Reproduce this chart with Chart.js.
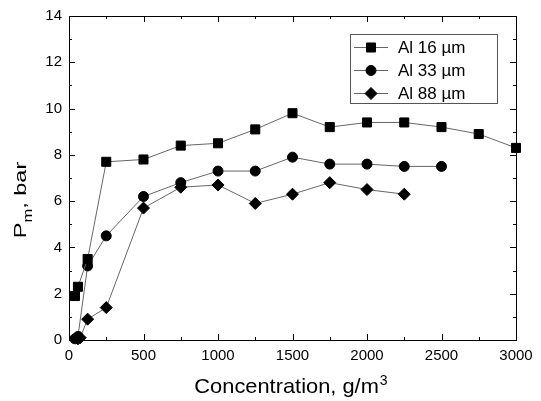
<!DOCTYPE html>
<html>
<head>
<meta charset="utf-8">
<script src="https://cdn.jsdelivr.net/npm/chart.js@4/dist/chart.umd.min.js"></script>
<style>
  html, body { margin: 0; padding: 0; background: #fff; }
  #wrap { width: 541px; height: 401px; }
</style>
</head>
<body>
<div id="wrap"><canvas id="chart" width="541" height="401"></canvas></div>
<script>
// data (concentration g/m3, Pm bar)
const al16X = [40, 60, 125, 250, 500, 750, 1000, 1250, 1500, 1750, 2000, 2250, 2500, 2750, 3000];
const al16Y = [1.9, 2.3, 3.5, 7.7, 7.8, 8.4, 8.5, 9.1, 9.8, 9.2, 9.4, 9.4, 9.2, 8.9, 8.3];
const al33X = [40, 60, 125, 250, 500, 750, 1000, 1250, 1500, 1750, 2000, 2250, 2500];
const al33Y = [0.05, 0.15, 3.2, 4.5, 6.2, 6.8, 7.3, 7.3, 7.9, 7.6, 7.6, 7.5, 7.5];
const al88X = [60, 75, 125, 250, 500, 750, 1000, 1250, 1500, 1750, 2000, 2250];
const al88Y = [0.05, 0.1, 0.9, 1.4, 5.7, 6.6, 6.7, 5.9, 6.3, 6.8, 6.5, 6.3];
const seriesNames = ["Al 16 \u00b5m", "Al 33 \u00b5m", "Al 88 \u00b5m"];
const xTicks = [0, 500, 1000, 1500, 2000, 2500, 3000];
const yTicks = [0, 2, 4, 6, 8, 10, 12, 14];

const FONT = "'Liberation Sans', Arial, sans-serif";

function pts(xs, ys) {
  return xs.map((x, i) => ({ x: x, y: ys[i] }));
}

function ds(label, data, shape, r) {
  return {
    label: label,
    data: data,
    borderColor: "#666",
    borderWidth: 1,
    pointStyle: shape,
    pointRadius: r,
    pointBackgroundColor: "#000",
    pointBorderColor: "#000",
    pointBorderWidth: 1,
    fill: false,
    tension: 0
  };
}

// frame + inward ticks, axis titles
const framePlugin = {
  id: "frame",
  afterDatasetsDraw(chart) {
    const { ctx, chartArea: a, scales } = chart;
    const xs = scales.x, ys = scales.y;
    ctx.save();
    ctx.strokeStyle = "#000";
    ctx.lineWidth = 1;
    ctx.beginPath();
    // minor + major ticks on x
    for (let v = 0; v <= 3000; v += 250) {
      const px = Math.round(xs.getPixelForValue(v)) + 0.5;
      const len = v % 500 === 0 ? 6 : 3;
      ctx.moveTo(px, a.bottom); ctx.lineTo(px, a.bottom - len);
      ctx.moveTo(px, a.top); ctx.lineTo(px, a.top + len);
    }
    for (let v = 0; v <= 14; v += 1) {
      const py = Math.round(ys.getPixelForValue(v)) + 0.5;
      const len = v % 2 === 0 ? 6 : 3;
      ctx.moveTo(a.left, py); ctx.lineTo(a.left + len, py);
      ctx.moveTo(a.right, py); ctx.lineTo(a.right - len, py);
    }
    ctx.stroke();
    ctx.strokeRect(Math.round(a.left) + 0.5, Math.round(a.top) + 0.5,
      Math.round(a.right - a.left), Math.round(a.bottom - a.top));
    ctx.restore();
  },
  afterDraw(chart) {
    const { ctx, chartArea: a } = chart;
    ctx.save();
    ctx.fillStyle = "#000";
    ctx.textBaseline = "alphabetic";
    // x title with superscript
    const t1 = "Concentration, g/m";
    ctx.font = "21px " + FONT;
    const w1 = ctx.measureText(t1).width * 1.04;
    ctx.font = "14px " + FONT;
    const w2 = ctx.measureText("3").width;
    const cx = (a.left + a.right) / 2;
    let x0 = cx - (w1 + w2) / 2 - 2;
    ctx.save();
    ctx.translate(x0, 393);
    ctx.scale(1.04, 1);
    ctx.font = "21px " + FONT;
    ctx.textAlign = "left";
    ctx.fillText(t1, 0, 0);
    ctx.restore();
    ctx.font = "14px " + FONT;
    ctx.fillText("3", x0 + w1 + 1, 385);

    // y title with subscript, rotated and stretched along the text
    ctx.translate(26, 200);
    ctx.rotate(-Math.PI / 2);
    ctx.scale(1.38, 1);
    ctx.font = "17px " + FONT;
    const pw = ctx.measureText("P").width;
    ctx.font = "12px " + FONT;
    const mw = ctx.measureText("m").width;
    ctx.font = "17px " + FONT;
    const bw = ctx.measureText(", bar").width;
    let sx = -(pw + mw + bw) / 2;
    ctx.fillText("P", sx, 0);
    ctx.font = "12px " + FONT;
    ctx.fillText("m", sx + pw, 6);
    ctx.font = "17px " + FONT;
    ctx.fillText(", bar", sx + pw + mw, 0);
    ctx.restore();
  }
};

// legend box in the upper right
const legendPlugin = {
  id: "boxLegend",
  afterDraw(chart) {
    const { ctx } = chart;
    const bx = 350.5, by = 34.5, bw = 147, bh = 69;
    ctx.save();
    ctx.strokeStyle = "#555";
    ctx.lineWidth = 1;
    ctx.strokeRect(bx, by, bw, bh);
    chart.data.datasets.forEach((d, i) => {
      const y = 47 + i * 23;
      ctx.strokeStyle = d.borderColor;
      ctx.beginPath();
      ctx.moveTo(354, y + 0.5); ctx.lineTo(388, y + 0.5);
      ctx.stroke();
      ctx.fillStyle = "#000";
      ctx.strokeStyle = "#000";
      Chart.helpers.drawPoint(ctx, {
        pointStyle: d.pointStyle, radius: d.pointRadius, borderWidth: 1, rotation: 0
      }, 371, y + 0.5);
      ctx.font = "17px " + FONT;
      ctx.textAlign = "left";
      ctx.textBaseline = "middle";
      ctx.fillText(seriesNames[i], 398, y + 1);
    });
    ctx.restore();
  }
};

new Chart(document.getElementById("chart"), {
  type: "line",
  data: {
    datasets: [
      ds(seriesNames[0], pts(al16X, al16Y), "rect", 6.4),
      ds(seriesNames[1], pts(al33X, al33Y), "circle", 5),
      ds(seriesNames[2], pts(al88X, al88Y), "rectRot", 6)
    ]
  },
  options: {
    responsive: false,
    animation: false,
    clip: false,
    layout: { padding: { top: 14, right: 25, left: 0, bottom: 0 } },
    plugins: { legend: { display: false }, tooltip: { enabled: false } },
    scales: {
      x: {
        type: "linear",
        min: 0, max: 3000,
        afterBuildTicks: s => { s.ticks = xTicks.map(v => ({ value: v })); },
        afterFit: s => { s.height = 61; },
        grid: { display: false, drawTicks: false },
        border: { display: false },
        ticks: { color: "#000", font: { family: FONT, size: 15 }, padding: 7, maxRotation: 0,
                 callback: v => String(v) }
      },
      y: {
        type: "linear",
        min: 0, max: 14,
        afterBuildTicks: s => { s.ticks = yTicks.map(v => ({ value: v })); },
        afterFit: s => { s.width = 69; },
        grid: { display: false, drawTicks: false },
        border: { display: false },
        ticks: { color: "#000", font: { family: FONT, size: 15 }, padding: 7,
                 callback: v => String(v) }
      }
    }
  },
  plugins: [framePlugin, legendPlugin]
});
</script>
</body>
</html>
